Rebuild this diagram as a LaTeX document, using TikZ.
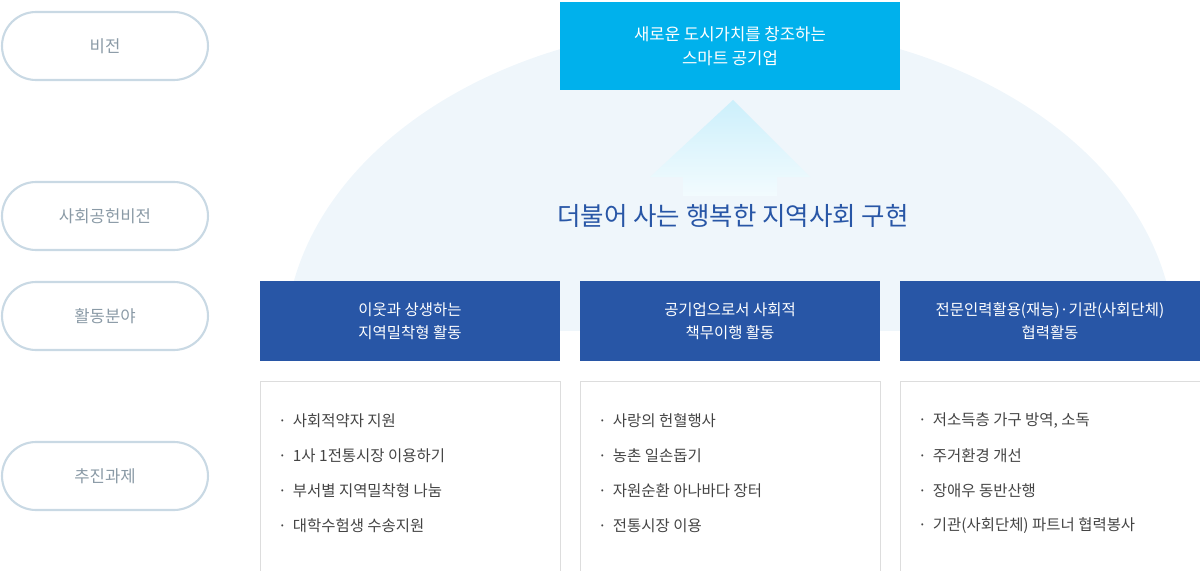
\documentclass[tikz,border=0pt]{standalone}
\usepackage{fontspec}
\setmainfont{Noto Sans CJK KR}
\usetikzlibrary{shadings}
\definecolor{pill}{HTML}{C9D9E4}
\definecolor{pilltext}{HTML}{8A9AA6}
\definecolor{sky}{HTML}{00B1EC}
\definecolor{navy}{HTML}{2856A6}
\definecolor{dome}{HTML}{EFF6FB}
\definecolor{itemtext}{HTML}{444444}
\definecolor{boxline}{HTML}{DDDDDD}
\tikzset{
 pillbox/.style={draw=pill,line width=1.2pt,rounded corners=0.68cm,minimum width=4.12cm,minimum height=1.36cm,text=pilltext,font=\fontsize{9.5pt}{11pt}\selectfont},
 fieldbox/.style={fill=navy,minimum width=6cm,minimum height=1.6cm,text=white,align=center,font=\fontsize{8.8pt}{13pt}\selectfont},
 taskbox/.style={draw=boxline,line width=0.5pt,minimum width=6cm,minimum height=3.8cm},
 item/.style={anchor=west,text=itemtext,font=\fontsize{8.8pt}{10pt}\selectfont}
}
\begin{document}
\begin{tikzpicture}[x=0.02cm,y=-0.02cm]
\useasboundingbox (0,0) rectangle (1200,571);
\begin{scope}
\clip (0,0) rectangle (1200,330);
\fill[dome] (730,345) ellipse [x radius=445,y radius=320];
\end{scope}
% pills
\node[pillbox] (p1) at (105,46) {비전};
\node[pillbox] (p2) at (105,216) {사회공헌비전};
\node[pillbox] (p3) at (105,316) {활동분야};
\node[pillbox] (p4) at (105,476) {추진과제};
% top
\node[fill=sky,minimum width=6.8cm,minimum height=1.76cm,text=white,align=center,font=\fontsize{9.5pt}{13.5pt}\selectfont] (top) at (730,46) {새로운 도시가치를 창조하는\\스마트 공기업};
% arrow
\shade[top color=sky!20,bottom color=sky!5] (733,100) -- (810,177) -- (777,177) -- (777,196) -- (683,196) -- (683,177) -- (650,177) -- cycle;
\node[text=navy,font=\fontsize{14.5pt}{16pt}\selectfont] (vision) at (733,216) {더불어 사는 행복한 지역사회 구현};
% fields
\node[fieldbox] (f1) at (410,321) {이웃과 상생하는\\지역밀착형 활동};
\node[fieldbox] (f2) at (730,321) {공기업으로서 사회적\\책무이행 활동};
\node[fieldbox] (f3) at (1050,321) {전문인력활용(재능)·기관(사회단체)\\협력활동};
% tasks
\node[taskbox] (t1) at (410,476) {};
\node[taskbox] (t2) at (730,476) {};
\node[taskbox] (t3) at (1050,476) {};
\foreach \x/\a/\b/\c/\d in {
 272/사회적약자 지원/1사 1전통시장 이용하기/부서별 지역밀착형 나눔/대학수험생 수송지원,
 592/사랑의 헌혈행사/농촌 일손돕기/자원순환 아나바다 장터/전통시장 이용,
 912/저소득층 가구 방역{,} 소독/주거환경 개선/장애우 동반산행/기관(사회단체) 파트너 협력봉사}{
 \node[item] at (\x,421) {·\, \a};
 \node[item] at (\x,456) {·\, \b};
 \node[item] at (\x,491) {·\, \c};
 \node[item] at (\x,526) {·\, \d};
}
\end{tikzpicture}
\end{document}
